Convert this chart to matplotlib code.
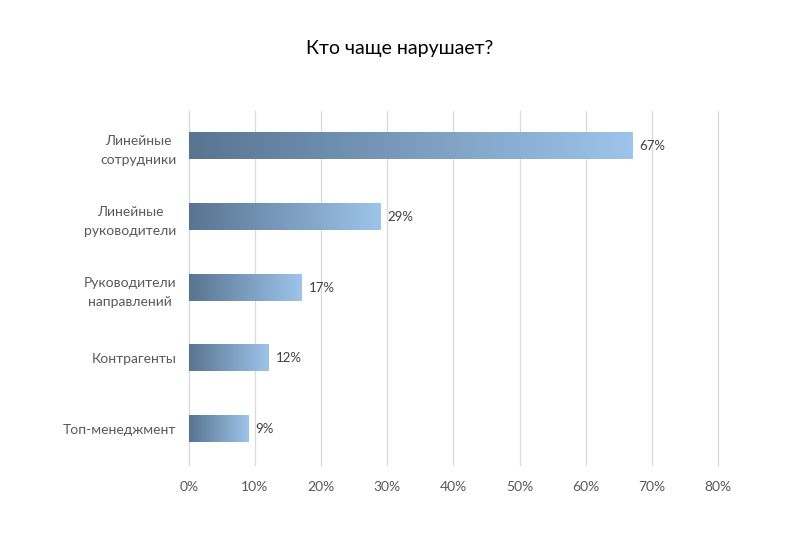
import numpy as np
import matplotlib.pyplot as plt
from matplotlib.colors import LinearSegmentedColormap

# данные
categories = ["Линейные\nсотрудники", "Линейные\nруководители", "Руководители\nнаправлений",
              "Контрагенты", "Топ-менеджмент"]
values = [67, 29, 17, 12, 9]
ticks = [0, 10, 20, 30, 40, 50, 60, 70, 80]
tick_labels = [f"{t}%" for t in ticks]

plt.rcParams['font.family'] = ['Lato', 'DejaVu Sans']

fig = plt.figure(figsize=(8, 5.34), dpi=100)
ax = fig.add_axes([0.236, 0.13, 0.6615, 0.663])

cmap = LinearSegmentedColormap.from_list("grad", ["#587491", "#9dc4ea"])
grad = np.linspace(0, 1, 256).reshape(1, -1)

ypos = np.arange(len(categories))[::-1]
bar_h = 0.37
for y, v in zip(ypos, values):
    ax.imshow(grad, cmap=cmap, aspect="auto", extent=(0, v, y - bar_h / 2, y + bar_h / 2),
              zorder=3, interpolation="bilinear")
    ax.text(v + 1.1, y, f"{v}%", va="center", ha="left", fontsize=9.5, color="#404040")

ax.set_xlim(0, 80)
ax.set_ylim(-0.5, len(categories) - 0.5)
ax.set_xticks(ticks)
ax.set_xticklabels(tick_labels)
ax.set_yticks(ypos)
ax.set_yticklabels(categories, ha="right", multialignment="center", linespacing=1.7)
ax.tick_params(axis="y", length=0, pad=9, labelsize=10, labelcolor="#595959")
ax.tick_params(axis="x", length=0, pad=12, labelsize=10, labelcolor="#595959")
ax.grid(axis="x", color="#d9d9d9", linewidth=0.9, zorder=0)
for gl in ax.get_xgridlines():
    gl.set_clip_on(False)
ax.set_axisbelow(True)
for s in ["top", "right", "bottom"]:
    ax.spines[s].set_visible(False)
ax.spines["left"].set_color("#d9d9d9")

fig.text(0.5, 0.91, "Кто чаще нарушает?", ha="center", va="center", fontsize=14, color="#000000")

fig.savefig("out.png", dpi=100)
